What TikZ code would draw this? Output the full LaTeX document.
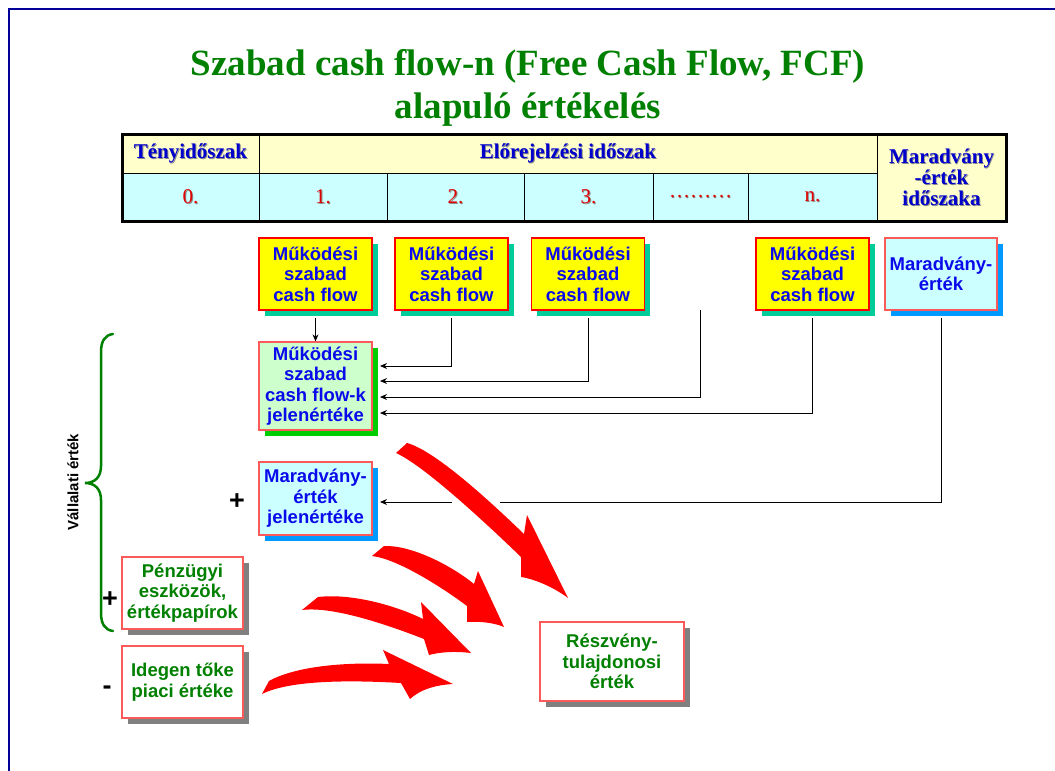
\documentclass[tikz,border=0pt]{standalone}
\usepackage{fontspec}
\setmainfont{Liberation Serif}
\setsansfont{Liberation Sans}
\usetikzlibrary{shadows,arrows.meta,calc}

\definecolor{titlegreen}{RGB}{0,128,0}
\definecolor{hdrblue}{RGB}{0,0,204}
\definecolor{boxblue}{RGB}{10,10,235}
\definecolor{numred}{RGB}{225,0,0}
\definecolor{paleyellow}{RGB}{255,255,204}
\definecolor{palecyan}{RGB}{204,255,255}
\definecolor{palegreen}{RGB}{204,255,204}
\definecolor{cfyellow}{RGB}{255,255,0}
\definecolor{shteal}{RGB}{0,204,153}
\definecolor{shblue}{RGB}{0,153,255}
\definecolor{shgreen}{RGB}{0,204,0}
\definecolor{shgray}{RGB}{128,128,128}
\definecolor{framenavy}{RGB}{0,0,153}
\definecolor{lightred}{RGB}{250,90,90}
\definecolor{bigred}{RGB}{255,0,0}

% text with a small dark drop shadow (table labels)
\newcommand{\sdw}[1]{\makebox[0pt][l]{\kern0.9pt\raisebox{-0.9pt}{\textcolor{black!45}{#1}}}#1}

\begin{document}
\begin{tikzpicture}[x=1pt,y=-1pt,
  cell/.style={draw=black, line width=1pt, inner sep=0pt, anchor=center},
  hdr/.style={cell, fill=paleyellow, text=hdrblue, font=\bfseries\fontsize{21}{21}\selectfont},
  num/.style={cell, fill=palecyan, text=numred, font=\fontsize{21}{21}\selectfont, minimum height=48pt},
  basebox/.style={line width=1.3pt, inner sep=0pt, align=center,
    font=\sffamily\bfseries\fontsize{18.5}{20.5}\selectfont,
    minimum width=113pt, minimum height=72pt},
  cfbox/.style={basebox, draw=red, fill=cfyellow, text=boxblue,
    drop shadow={shadow xshift=5.5pt, shadow yshift=-5.5pt, fill=shteal, opacity=1}},
  mebox/.style={basebox, draw=lightred, fill=palecyan, text=boxblue,
    drop shadow={shadow xshift=5.5pt, shadow yshift=-5.5pt, fill=shblue, opacity=1}},
  pvbox/.style={basebox, draw=lightred, fill=palegreen, text=boxblue,
    drop shadow={shadow xshift=5.5pt, shadow yshift=-5.5pt, fill=shgreen, opacity=1}},
  wbox/.style={basebox, draw=lightred, fill=white, text=titlegreen, minimum width=121pt,
    drop shadow={shadow xshift=5.5pt, shadow yshift=-5.5pt, fill=shgray, opacity=1}},
  link/.style={draw=black, line width=0.9pt},
  conn/.style={link, -{Stealth[length=7pt,width=6pt]}},
  sign/.style={font=\sffamily\bfseries\fontsize{27}{27}\selectfont, inner sep=0pt},
  bigarrow/.style={fill=bigred}
]
\useasboundingbox (0,0) rectangle (1055,771);
\fill[white] (0,0) rectangle (1055,771);

% slide frame
\draw[framenavy, line width=2pt] (9,771) -- (9,9) -- (1055,9);

% title
\node[anchor=base, text=titlegreen, font=\bfseries\fontsize{37}{43}\selectfont, inner sep=0pt]
  (title1) at (528,75) {Szabad cash flow-n (Free Cash Flow, FCF)};
\node[anchor=base, text=titlegreen, font=\bfseries\fontsize{37}{43}\selectfont, inner sep=0pt]
  (title2) at (528,118) {alapuló értékelés};

% period table
\node[hdr, minimum width=137pt, minimum height=39pt] (h0) at (190.5,153.5) {\sdw{Tényidőszak}};
\node[hdr, minimum width=618pt, minimum height=39pt] (h1) at (568,153.5) {\sdw{Előrejelzési időszak}};
\node[hdr, minimum width=129pt, minimum height=87pt, align=center] (h2) at (941.5,177.5)
  {\sdw{Maradvány}\\\sdw{-érték}\\\sdw{időszaka}};
\node[num, minimum width=137pt] (c0) at (190.5,197) {\sdw{0.}};
\node[num, minimum width=128pt] (c1) at (323,197) {\sdw{1.}};
\node[num, minimum width=137pt] (c2) at (455.5,197) {\sdw{2.}};
\node[num, minimum width=129pt] (c3) at (588.5,197) {\sdw{3.}};
\node[num, minimum width=95pt] (c4) at (700.5,197) {\sdw{\textellipsis\textellipsis\textellipsis}};
\node[num, minimum width=129pt] (c5) at (812.5,197) {\sdw{n.}};
\draw[line width=3pt] (122,134) rectangle (1006,221);

% cash flow boxes
\node[cfbox] (b1) at (315.5,274) {Működési\\szabad\\cash flow};
\node[cfbox] (b2) at (451.5,274) {Működési\\szabad\\cash flow};
\node[cfbox] (b3) at (588,274) {Működési\\szabad\\cash flow};
\node[cfbox] (bn) at (812.5,274) {Működési\\szabad\\cash flow};
\node[mebox, minimum width=112pt] (me) at (941,274) {Maradvány-\\érték};

% present values
\node[pvbox, minimum height=88pt] (pv) at (315.5,386) {Működési\\szabad\\cash flow-k\\jelenértéke};
\node[mebox, minimum height=73pt] (mj) at (315.5,498.5) {Maradvány-\\érték\\jelenértéke};

% other components
\node[wbox] (pe) at (182.5,593) {Pénzügyi\\eszközök,\\értékpapírok};
\node[wbox] (it) at (182.5,682) {Idegen tőke\\piaci értéke};
\node[wbox, minimum width=144pt, minimum height=79pt] (rt) at (612,661.5) {Részvény-\\tulajdonosi\\érték};

% connectors into the present value boxes
\coordinate (p2) at (380,366);
\coordinate (p3) at (380,381);
\coordinate (p4) at (380,397);
\coordinate (p5) at (380,413);
\coordinate (dtop) at (700,310);
\coordinate (gapR) at (500,502);
\coordinate (gapL) at (452,502);
\coordinate (pm) at (380,502);
\draw[conn] ([yshift=-7pt]b1.south) -- (pv.north);
\draw[conn] ([yshift=-7pt]b2.south) |- (p2);
\draw[conn] ([yshift=-7pt]b3.south) |- (p3);
\draw[conn] (dtop) |- (p4);
\draw[conn] ([yshift=-7pt]bn.south) |- (p5);
\draw[link] ([yshift=-7pt]me.south) |- (gapR);
\draw[conn] (gapL) -- (pm);

% signs
\node[sign] (plus1) at (237,502) {+};
\node[sign] (plus2) at (110,600) {+};
\node[sign] (minus) at (107,690) {-};

% brace for the firm value
\draw[titlegreen, line width=2.5pt, line cap=round]
  (113,334) .. controls (105,335) and (101,341) .. (101,352)
  -- (101,466) .. controls (101,477) and (95,483) .. (85,483)
  .. controls (95,483) and (101,489) .. (101,500)
  -- (101,613) .. controls (101,624) and (105,630) .. (113,631);
\node[rotate=90, font=\sffamily\bfseries\fontsize{15}{15}\selectfont, inner sep=0pt]
  (vert) at (73,482) {Vállalati érték};

% large curved red arrows
\fill[bigarrow] (396,453) -- (407,443)
  .. controls (437,451) and (498,509) .. (524,534)
  -- (527,515) -- (568,598)
  .. controls (555,588) and (535,579) .. (521,577)
  -- (521,557)
  .. controls (490,527) and (425,466) .. (396,453) -- cycle;
\fill[bigarrow] (372,556) -- (384,546)
  .. controls (412,545) and (452,566) .. (474,584)
  -- (478,571) -- (504,627)
  .. controls (495,623) and (480,621) .. (467,622)
  -- (467,606)
  .. controls (443,588) and (398,559) .. (372,556) -- cycle;
\fill[bigarrow] (302,610) -- (318,597)
  .. controls (352,593) and (397,606) .. (423,619)
  -- (421,602) -- (471,653)
  .. controls (455,651) and (440,652) .. (429,655)
  -- (424,639)
  .. controls (388,625) and (333,606) .. (302,610) -- cycle;
\fill[bigarrow] (262,694) -- (269,681)
  .. controls (296,666) and (346,662) .. (389,664)
  -- (383,650) -- (453,684)
  .. controls (436,685) and (421,689) .. (410,699)
  -- (401,683)
  .. controls (350,680) and (290,680) .. (262,694) -- cycle;
\end{tikzpicture}
\end{document}
